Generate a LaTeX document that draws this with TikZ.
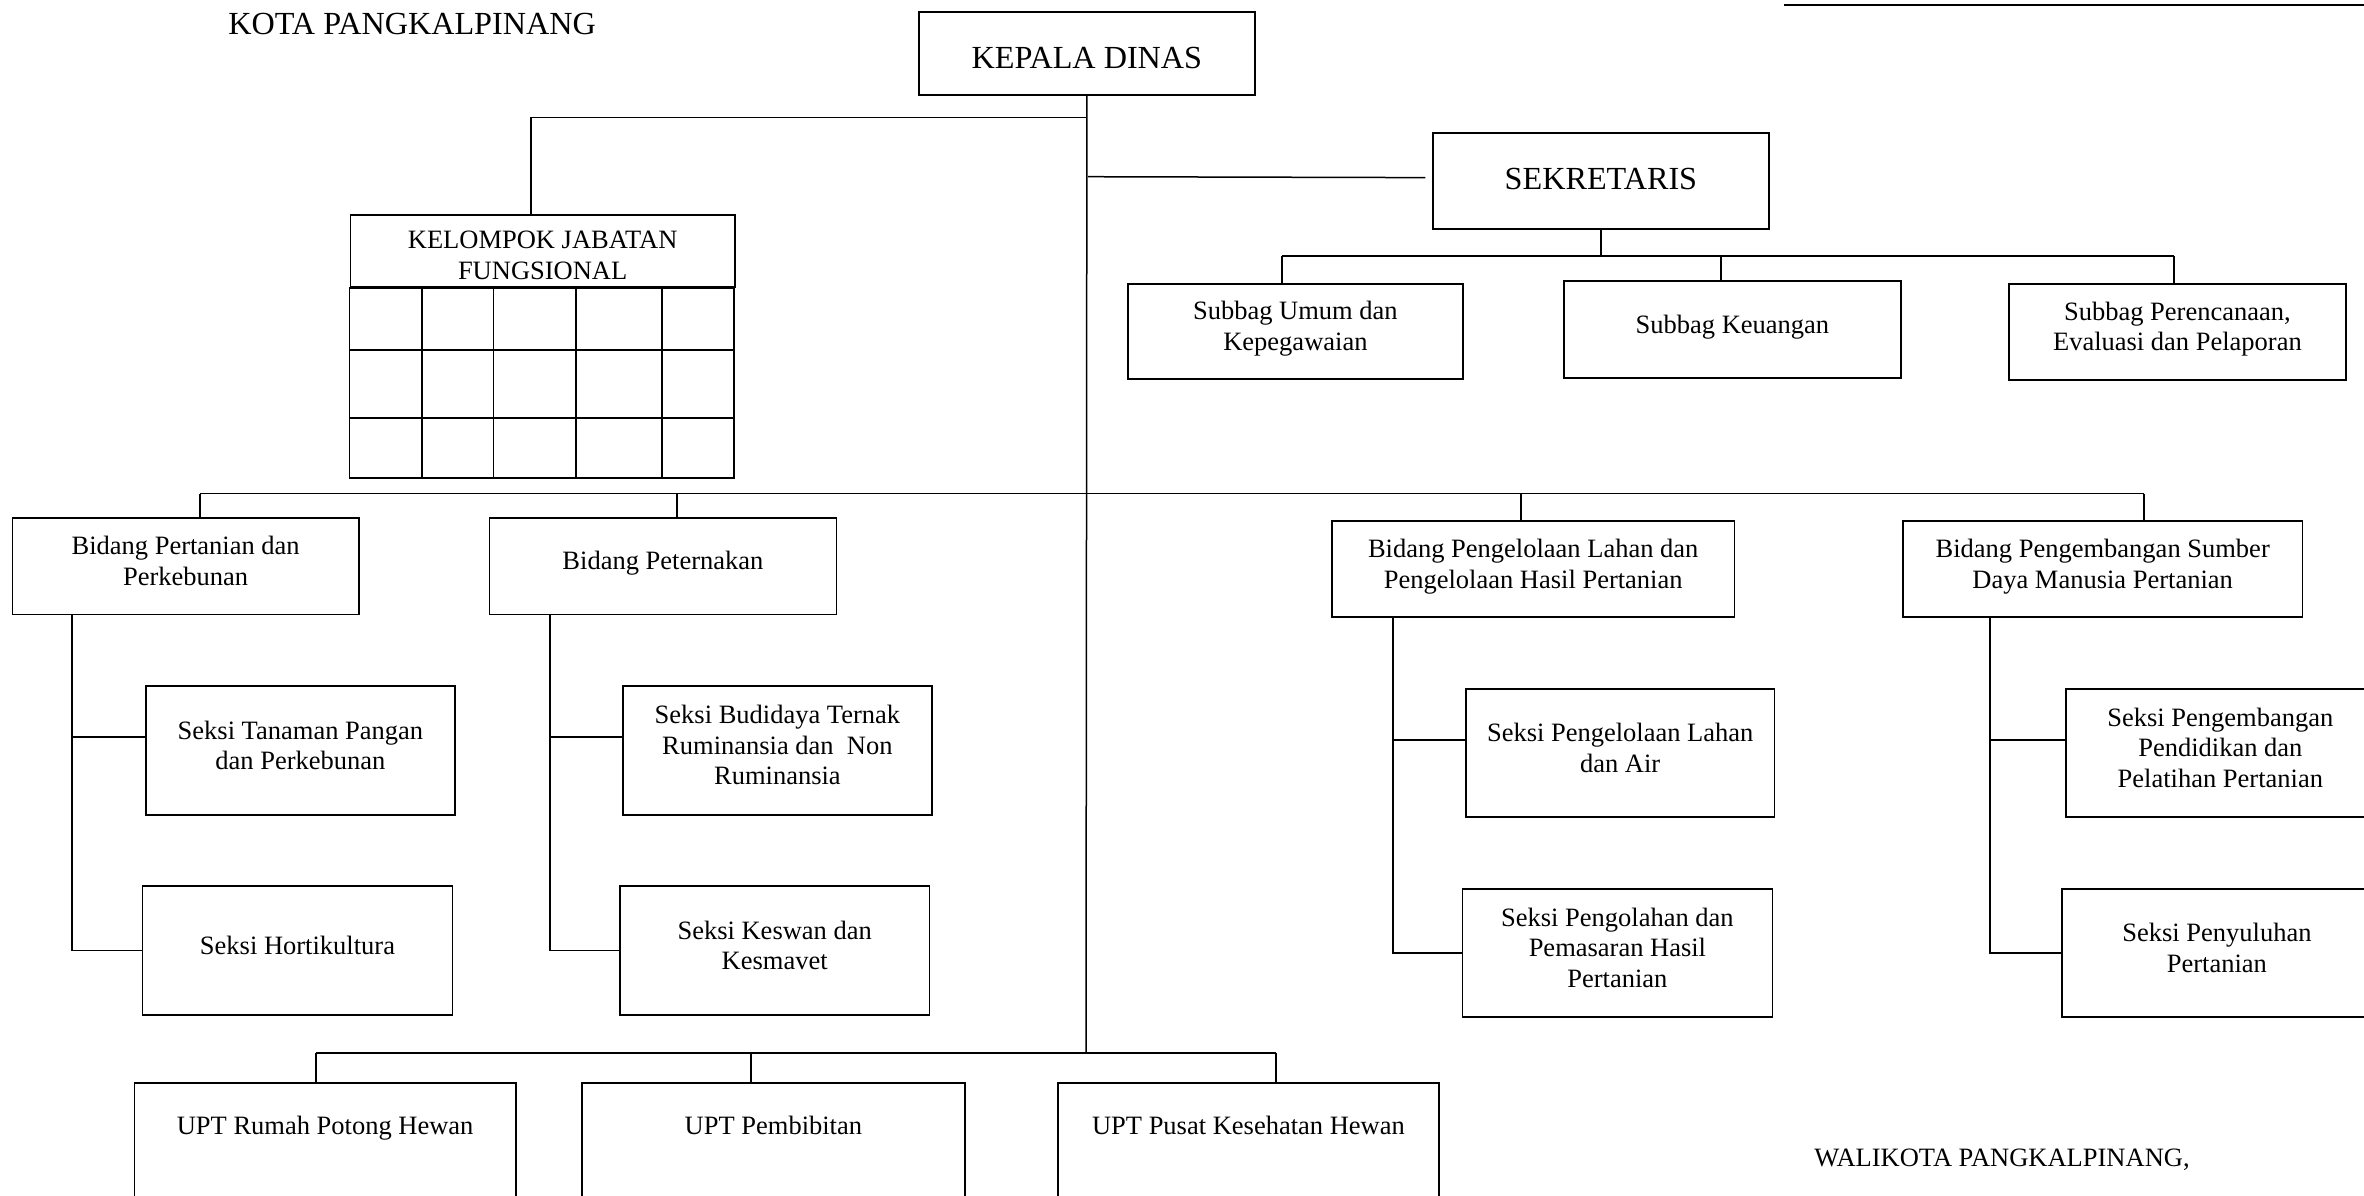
\documentclass[tikz,border=0pt]{standalone}
\usepackage{fontspec}
\setmainfont{Liberation Serif}
\newcommand\orgtext{\fontsize{13.25pt}{15.2pt}\selectfont}
\newcommand\orgbig{\fontsize{16.1pt}{19pt}\selectfont}
\tikzset{
  box/.style={draw, line width=0.9pt, align=center, inner sep=2pt, font=\orgtext, anchor=north west, text depth=5.5pt},
  bigbox/.style={box, font=\orgbig},
  conn/.style={line width=0.75pt},
  uptbox/.style={draw, line width=0.9pt, align=center, font=\orgtext, anchor=north west,
    inner xsep=2pt, inner ysep=17pt, text height=9pt, text depth=50pt},
}
\begin{document}
\begin{tikzpicture}[x=0.5pt,y=-0.5pt]
\useasboundingbox (0,0) rectangle (2364,1195);
\fill[white] (0,0) rectangle (2364,1195);
\clip (0,0) rectangle (2364,1195);

% titles
\node[anchor=base west, inner sep=0, font=\orgbig] (kota) at (228,34) {KOTA PANGKALPINANG};
\node[anchor=base west, inner sep=0, font=\orgtext] (wali) at (1814,1166) {WALIKOTA PANGKALPINANG,};
\draw[line width=1pt] (1784,5) -- (2364,5);

% top level
\node[bigbox, minimum width=168pt, minimum height=41.5pt, text height=20.5pt] (kd) at (918,11) {KEPALA DINAS};
\node[bigbox, minimum width=168pt, minimum height=48pt, text depth=1.5pt] (sek) at (1432,131.7) {SEKRETARIS};

% subbag
\node[box, minimum width=167.5pt, minimum height=47.5pt] (sb1) at (1127,283) {Subbag Umum dan\\Kepegawaian};
\node[box, minimum width=168.5pt, minimum height=48.5pt] (sb2) at (1563,280) {Subbag Keuangan};
\node[box, minimum width=168.5pt, minimum height=48pt] (sb3) at (2008,283) {Subbag Perencanaan,\\Evaluasi dan Pelaporan};

% kelompok jabatan fungsional
\node[box, minimum width=192.25pt, minimum height=36pt, text height=28pt, text depth=0pt] (kjf) at (349.5,214.3) {KELOMPOK JABATAN\\FUNGSIONAL};
\coordinate (kjfbot) at (734,478);
\draw[line width=0.9pt] (kjf.south west) rectangle (kjfbot);
\draw[line width=0.8pt] (349.5,350) -- (734,350) (349.5,418) -- (734,418);
\foreach \cx in {421.7,493.3,575.7,661.7} {\draw[line width=0.8pt] (\cx,286.3) -- (\cx,478);}

% bidang
\node[box, minimum width=173.25pt, minimum height=48.25pt] (b1) at (11.5,517.1) {Bidang Pertanian dan\\Perkebunan};
\node[box, minimum width=173.5pt, minimum height=48.25pt] (b2) at (488.5,517.1) {Bidang Peternakan};
\node[box, minimum width=201.3pt, minimum height=48pt] (b3) at (1331,520.4) {Bidang Pengelolaan Lahan dan\\Pengelolaan Hasil Pertanian};
\node[box, minimum width=199.8pt, minimum height=48pt] (b4) at (1902,520.4) {Bidang Pengembangan Sumber\\Daya Manusia Pertanian};

% seksi
\node[box, minimum width=154.5pt, minimum height=64.25pt] (s11) at (145,685.4) {Seksi Tanaman Pangan\\dan Perkebunan};
\node[box, minimum width=155pt, minimum height=64.25pt] (s12) at (141.6,885.4) {Seksi Hortikultura};
\node[box, minimum width=154.5pt, minimum height=64.25pt] (s21) at (622,685.4) {Seksi Budidaya Ternak\\Ruminansia dan\ \ Non\\Ruminansia};
\node[box, minimum width=154.8pt, minimum height=64.25pt] (s22) at (619,885.4) {Seksi Keswan dan\\Kesmavet};
\node[box, minimum width=154.3pt, minimum height=64.1pt] (s31) at (1465,688.2) {Seksi Pengelolaan Lahan\\dan Air};
\node[box, minimum width=155pt, minimum height=64.1pt] (s32) at (1461.5,888.2) {Seksi Pengolahan dan\\Pemasaran Hasil\\Pertanian};
\node[box, minimum width=154.75pt, minimum height=64.1pt] (s41) at (2064.7,688.2) {Seksi Pengembangan\\Pendidikan dan\\Pelatihan Pertanian};
\node[box, minimum width=155pt, minimum height=64.1pt] (s42) at (2061,888.2) {Seksi Penyuluhan\\Pertanian};

% UPT
\node[uptbox, minimum width=190.75pt] (u1) at (133.5,1082) {UPT Rumah Potong Hewan};
\node[uptbox, minimum width=191.5pt] (u2) at (581,1082) {UPT Pembibitan};
\node[uptbox, minimum width=190.85pt] (u3) at (1056.7,1082) {UPT Pusat Kesehatan Hewan};

% junction coordinates
\coordinate (kjfjn) at (1086,117.7);
\coordinate (sekjn) at (1088,176.7);
\coordinate (sbL) at (1282,256);
\coordinate (sbM) at (1721,256);
\coordinate (sbR) at (2174,256);
\coordinate (bbL) at (200,493.6);
\coordinate (bb2) at (677,493.6);
\coordinate (bb3) at (1521,493.6);
\coordinate (bbR) at (2144,493.6);
\coordinate (uptjn) at (1086,1053);
\coordinate (ubL) at (316,1053);
\coordinate (ubM) at (751,1053);
\coordinate (ubR) at (1276,1053);

% trunk
\draw[conn] (kd.south) -- (uptjn);
% KJF
\draw[conn] (kjfjn) -| ([xshift=-5.9pt]kjf.north);
% sekretaris
\draw[conn] (sekjn) -- ([xshift=-3.3pt,yshift=1.5pt]sek.west);
\draw[conn] (sek.south) -- (sek.south |- sbL);
\draw[conn] (sbL) -- (sbR);
\draw[conn] (sbL) -- (sbL |- sb1.north);
\draw[conn] (sbM) -- (sbM |- sb2.north);
\draw[conn] (sbR) -- (sbR |- sb3.north);
% bidang bus
\draw[conn] (bbL) -- (bbR);
\draw[conn] (bbL) -- (bbL |- b1.north);
\draw[conn] (bb2) -- (bb2 |- b2.north);
\draw[conn] (bb3) -- (bb3 |- b3.north);
\draw[conn] (bbR) -- (bbR |- b4.north);
% seksi connectors
\draw[conn] ([xshift=30.25pt]b1.south west) |- ([yshift=6.8pt]s11.west);
\draw[conn] ([xshift=30.25pt]b1.south west) |- (s12.west);
\draw[conn] ([xshift=30.75pt]b2.south west) |- ([yshift=6.8pt]s21.west);
\draw[conn] ([xshift=30.75pt]b2.south west) |- (s22.west);
\draw[conn] ([xshift=31pt]b3.south west) |- ([yshift=6.6pt]s31.west);
\draw[conn] ([xshift=31pt]b3.south west) |- (s32.west);
\draw[conn] ([xshift=44pt]b4.south west) |- ([yshift=6.6pt]s41.west);
\draw[conn] ([xshift=44pt]b4.south west) |- (s42.west);
% UPT bus
\draw[conn] (ubL) -- (ubR);
\draw[conn] (ubL) -- (ubL |- u1.north);
\draw[conn] (ubM) -- (ubM |- u2.north);
\draw[conn] (ubR) -- (ubR |- u3.north);
\end{tikzpicture}
\end{document}
